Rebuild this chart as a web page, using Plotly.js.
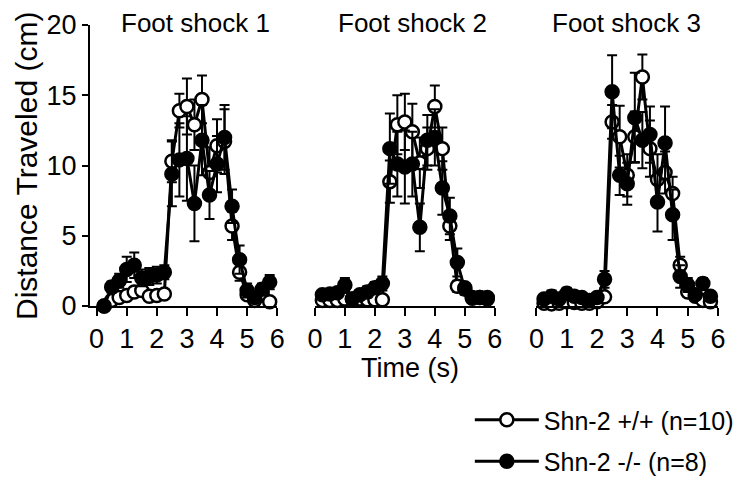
<!DOCTYPE html>
<html>
<head>
<meta charset="utf-8">
<script src="https://cdn.plot.ly/plotly-3.0.1.min.js"></script>
<style>html,body{margin:0;padding:0;background:#fff;}#chart{width:739px;height:478px;}</style>
</head>
<body>
<div id="chart"></div>
<script>
// Time points (s)
const time = [0.25,0.5,0.75,1.0,1.25,1.5,1.75,2.0,2.25,2.5,2.75,3.0,3.25,3.5,3.75,4.0,4.25,4.5,4.75,5.0,5.25,5.5,5.75];

const panelTitles = ["Foot shock 1", "Foot shock 2", "Foot shock 3"];
const seriesNames = ["Shn-2 +/+ (n=10)", "Shn-2 -/- (n=8)"];
const xTicks = [0,1,2,3,4,5,6];
const yTicks = [0,5,10,15,20];

// Foot shock 1
const fs1_wt     = [0.0,0.4,0.6,0.75,1.0,1.1,0.7,0.75,0.85,10.3,13.9,14.2,12.9,14.7,9.5,11.4,11.7,5.7,2.4,0.8,0.4,0.9,0.3];
const fs1_wt_err = [0.1,0.2,0.2,0.3,0.3,0.3,0.2,0.2,0.3,1.5,1.2,2.0,1.8,1.7,1.8,1.9,2.3,1.0,0.6,0.3,0.2,0.3,0.2];
const fs1_ko     = [0.0,1.35,1.8,2.6,2.9,2.0,2.1,2.2,2.4,9.4,10.4,10.5,7.3,11.8,7.9,10.1,12.0,7.1,3.3,1.1,0.6,1.2,1.7];
const fs1_ko_err = [0.0,0.4,0.5,0.9,0.9,0.6,0.6,0.6,0.5,2.3,2.6,3.0,2.7,2.5,1.7,2.0,2.3,1.2,1.0,0.5,0.3,0.4,0.5];

// Foot shock 2
const fs2_wt     = [0.4,0.4,0.4,0.5,0.5,0.5,0.45,0.45,0.45,8.85,12.9,13.1,12.4,10.2,11.2,14.2,11.2,5.7,1.4,1.3,0.6,0.6,0.5];
const fs2_wt_err = [0.15,0.15,0.15,0.15,0.15,0.15,0.15,0.15,0.15,1.5,2.1,2.0,2.0,1.8,1.5,1.5,1.5,1.0,0.4,0.3,0.2,0.2,0.2];
const fs2_ko     = [0.8,0.85,0.95,1.5,0.5,0.8,1.0,1.3,1.6,11.2,10.1,9.9,10.1,5.6,11.8,12.0,8.4,6.4,3.1,1.2,0.55,0.6,0.6];
const fs2_ko_err = [0.3,0.3,0.3,0.5,0.3,0.3,0.4,0.4,0.5,2.5,2.3,2.6,2.3,1.7,1.8,2.0,1.9,1.3,1.0,0.4,0.2,0.2,0.2];

// Foot shock 3
const fs3_wt     = [0.2,0.15,0.2,0.3,0.25,0.2,0.2,0.3,0.65,13.1,12.05,9.3,12.05,16.3,11.2,9.0,9.5,8.0,2.9,1.0,0.7,0.4,0.3];
const fs3_wt_err = [0.15,0.15,0.15,0.15,0.15,0.15,0.15,0.15,0.2,1.2,2.2,1.5,1.8,1.6,2.0,1.8,1.5,1.2,0.6,0.3,0.2,0.2,0.2];
const fs3_ko     = [0.5,0.7,0.5,0.9,0.7,0.6,0.4,0.6,1.9,15.25,9.3,8.7,13.4,11.8,12.2,7.4,11.6,6.5,2.1,1.5,0.8,1.6,0.7];
const fs3_ko_err = [0.3,0.4,0.3,0.4,0.3,0.3,0.3,0.3,0.6,2.6,1.4,1.5,3.2,2.0,2.0,2.1,2.6,1.8,0.8,0.5,0.3,0.4,0.3];

const FONT = '"Liberation Sans", Arial, Helvetica, sans-serif';
const panels = [
  {wt: fs1_wt, wtErr: fs1_wt_err, ko: fs1_ko, koErr: fs1_ko_err, xa: 'x'},
  {wt: fs2_wt, wtErr: fs2_wt_err, ko: fs2_ko, koErr: fs2_ko_err, xa: 'x2'},
  {wt: fs3_wt, wtErr: fs3_wt_err, ko: fs3_ko, koErr: fs3_ko_err, xa: 'x3'}
];

function mk(y, err, xa, filled, name, showlegend) {
  return {
    type: 'scatter', mode: 'lines+markers',
    x: time, y: y, xaxis: xa, yaxis: 'y',
    name: name, showlegend: showlegend, legendgroup: name,
    cliponaxis: false,
    line: {color: '#000', width: 3},
    marker: {symbol: 'circle', size: 13, color: filled ? '#000' : '#fff', line: {color: '#000', width: 2.5}},
    error_y: {type: 'data', array: err, visible: true, color: '#000', thickness: 2, width: 5}
  };
}

const traces = [];
panels.forEach((p, i) => {
  traces.push(mk(p.wt, p.wtErr, p.xa, false, seriesNames[0], i === 0));
  traces.push(mk(p.ko, p.koErr, p.xa, true, seriesNames[1], i === 0));
});

const L = 90, R = 739 - 718.3, T = 25, B = 478 - 306;
const W = 739 - L - R, H = 478 - T - B;
const px2x = v => (v - L) / W;
const px2y = v => (478 - B - v) / H;

const xbase = {
  showgrid: false, zeroline: false, showline: true, linecolor: '#000', linewidth: 2,
  ticks: 'outside', ticklen: 8, tickwidth: 2, tickcolor: '#000',
  tickvals: xTicks, ticktext: xTicks.map(String),
  tickfont: {family: FONT, size: 27, color: '#000'}, anchor: 'y', fixedrange: true
};

const layout = {
  width: 739, height: 478,
  margin: {l: L, r: R, t: T, b: B, pad: 0, autoexpand: false},
  paper_bgcolor: '#fff', plot_bgcolor: '#fff',
  font: {family: FONT, color: '#000'},
  showlegend: true,
  xaxis: Object.assign({}, xbase, {domain: [0, px2x(277.3)], range: [-0.22, 6]}),
  xaxis2: Object.assign({}, xbase, {domain: [px2x(315), px2x(495)], range: [0, 6]}),
  xaxis3: Object.assign({}, xbase, {domain: [px2x(536.7), 1], range: [0, 6]}),
  yaxis: {
    domain: [0, 1], range: [0, 20], showgrid: false, zeroline: false,
    showline: true, linecolor: '#000', linewidth: 2,
    ticks: 'outside', ticklen: 6, tickwidth: 2, tickcolor: '#000',
    tickvals: yTicks, ticktext: yTicks.map(String),
    tickfont: {family: FONT, size: 27, color: '#000'}, fixedrange: true
  },
  legend: {
    x: px2x(470), y: px2y(397), xanchor: 'left', yanchor: 'top',
    font: {family: FONT, size: 25, color: '#000'},
    bgcolor: 'rgba(0,0,0,0)', tracegroupgap: 6, itemsizing: 'trace', itemwidth: 64
  },
  annotations: [
    {text: panelTitles[0], xref: 'paper', yref: 'paper', x: px2x(196), y: px2y(23), xanchor: 'center', yanchor: 'middle', showarrow: false, font: {family: FONT, size: 26, color: '#000'}},
    {text: panelTitles[1], xref: 'paper', yref: 'paper', x: px2x(413), y: px2y(23), xanchor: 'center', yanchor: 'middle', showarrow: false, font: {family: FONT, size: 26, color: '#000'}},
    {text: panelTitles[2], xref: 'paper', yref: 'paper', x: px2x(627), y: px2y(23), xanchor: 'center', yanchor: 'middle', showarrow: false, font: {family: FONT, size: 26, color: '#000'}},
    {text: 'Time (s)', xref: 'paper', yref: 'paper', x: px2x(410), y: px2y(368), xanchor: 'center', yanchor: 'middle', showarrow: false, font: {family: FONT, size: 27, color: '#000'}},
    {text: 'Distance Traveled (cm)', xref: 'paper', yref: 'paper', x: px2x(26), y: px2y(166), xanchor: 'center', yanchor: 'middle', textangle: -90, showarrow: false, font: {family: FONT, size: 30, color: '#000'}}
  ]
};

Plotly.newPlot('chart', traces, layout, {displayModeBar: false, staticPlot: true});
</script>
</body>
</html>
